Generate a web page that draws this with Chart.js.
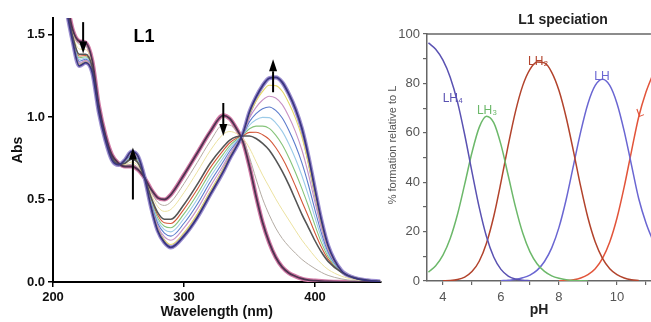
<!DOCTYPE html>
<html><head><meta charset="utf-8">
<script src="https://cdn.jsdelivr.net/npm/chart.js@4.4.1/dist/chart.umd.min.js"></script>
<style>
html,body{margin:0;padding:0;background:#fff;overflow:hidden;width:651px;height:322px;}
#c1{position:absolute;left:0;top:0;}
#c2{position:absolute;left:360px;top:0;}
</style></head><body>
<canvas id="c1" width="390" height="322" style="width:390px;height:322px"></canvas>
<canvas id="c2" width="291" height="322" style="width:291px;height:322px"></canvas>
<script>
// ---------- Left panel: UV-vis titration spectra ----------
const wavelengths = [210,215,220,225,230,235,240,245,250,255,260,265,270,275,280,285,290,300,310,320,330,335,340,345,350,355,360,365,370,375,380,385,390,395,400,405,410,420,430,440,450];
const absStart = [1.72,1.53,1.46,1.45,1.34,1.07,0.89,0.77,0.72,0.70,0.70,0.68,0.63,0.56,0.51,0.50,0.53,0.65,0.78,0.91,1.01,0.99,0.93,0.85,0.70,0.52,0.36,0.24,0.15,0.09,0.055,0.035,0.02,0.012,0.008,0.005,0.003,0.001,0,0,0];
const absStep1 = [1.71,1.52,1.44,1.43,1.33,1.06,0.885,0.765,0.72,0.706,0.714,0.692,0.63,0.545,0.483,0.464,0.485,0.596,0.723,0.853,0.953,0.951,0.915,0.861,0.756,0.625,0.504,0.408,0.327,0.264,0.216,0.175,0.137,0.107,0.081,0.058,0.040,0.019,0.008,0.003,0.001];
const absStep2 = [1.70,1.506,1.412,1.408,1.316,1.058,0.881,0.761,0.717,0.712,0.727,0.704,0.63,0.53,0.456,0.428,0.44,0.542,0.666,0.796,0.896,0.912,0.90,0.871,0.811,0.73,0.648,0.576,0.504,0.438,0.376,0.314,0.254,0.203,0.153,0.110,0.076,0.036,0.015,0.006,0.002];
const absMid = [1.69,1.49,1.38,1.38,1.30,1.05,0.875,0.755,0.715,0.72,0.745,0.72,0.63,0.51,0.42,0.38,0.38,0.47,0.59,0.72,0.82,0.86,0.88,0.885,0.885,0.87,0.84,0.80,0.74,0.67,0.59,0.50,0.41,0.33,0.25,0.18,0.125,0.06,0.025,0.01,0.003];
const absStep3 = [1.69,1.486,1.370,1.373,1.296,1.047,0.873,0.753,0.714,0.723,0.752,0.726,0.63,0.501,0.404,0.359,0.355,0.442,0.56,0.692,0.798,0.844,0.871,0.887,0.907,0.908,0.893,0.865,0.815,0.751,0.673,0.583,0.488,0.395,0.297,0.209,0.139,0.062,0.025,0.01,0.003];
const absStep4 = [1.68,1.481,1.359,1.365,1.291,1.044,0.871,0.751,0.714,0.726,0.759,0.732,0.63,0.492,0.387,0.338,0.329,0.413,0.53,0.663,0.775,0.827,0.862,0.890,0.929,0.945,0.945,0.931,0.89,0.832,0.755,0.665,0.566,0.459,0.343,0.237,0.154,0.063,0.025,0.01,0.003];
const absStep5 = [1.68,1.477,1.349,1.358,1.287,1.041,0.868,0.748,0.713,0.729,0.765,0.738,0.63,0.483,0.371,0.317,0.304,0.385,0.50,0.635,0.753,0.811,0.853,0.892,0.950,0.983,0.998,0.996,0.965,0.913,0.838,0.748,0.644,0.524,0.390,0.266,0.168,0.065,0.025,0.01,0.003];
const absStep6 = [1.67,1.472,1.338,1.35,1.282,1.038,0.866,0.746,0.712,0.732,0.772,0.744,0.63,0.474,0.354,0.296,0.278,0.356,0.47,0.606,0.73,0.794,0.844,0.894,0.972,1.02,1.05,1.061,1.04,0.994,0.92,0.83,0.722,0.588,0.436,0.294,0.182,0.066,0.025,0.01,0.003];
const absStep7 = [1.67,1.468,1.328,1.343,1.278,1.035,0.864,0.744,0.711,0.735,0.779,0.75,0.63,0.465,0.338,0.275,0.253,0.328,0.44,0.578,0.708,0.778,0.835,0.896,0.994,1.058,1.103,1.126,1.115,1.075,1.003,0.913,0.80,0.653,0.483,0.323,0.196,0.068,0.025,0.01,0.003];
const absStep8 = [1.66,1.463,1.317,1.335,1.273,1.032,0.862,0.742,0.711,0.738,0.786,0.756,0.63,0.456,0.321,0.254,0.227,0.299,0.41,0.549,0.685,0.761,0.826,0.899,1.016,1.095,1.155,1.192,1.19,1.156,1.085,0.995,0.878,0.717,0.529,0.351,0.211,0.069,0.025,0.01,0.003];
const absEnd = [1.66,1.46,1.31,1.33,1.27,1.03,0.86,0.74,0.71,0.74,0.79,0.76,0.63,0.45,0.31,0.24,0.21,0.28,0.39,0.53,0.67,0.75,0.82,0.90,1.03,1.12,1.19,1.235,1.24,1.21,1.14,1.05,0.93,0.76,0.56,0.37,0.22,0.07,0.025,0.01,0.003];
const wlTicks = [200, 300, 400];
const absTicks = [0, 0.5, 1.0, 1.5];

// ---------- Right panel: speciation ----------
const pH = [3.5,3.75,4,4.25,4.5,4.75,5,5.25,5.5,5.75,6,6.25,6.5,6.75,7,7.25,7.5,7.75,8,8.25,8.5,8.75,9,9.25,9.5,9.75,10,10.25,10.5,10.75,11,11.25];
const fracLH4 = [96.4,93.8,89.4,82.5,72.5,59.2,44.2,29.8,18.0,9.7,4.7,2.0,0.8,0.3,0.1,null,null,null,null,null,null,null,null,null,null,null,null,null,null,null,null,null];
const fracLH3 = [3.6,6.2,10.5,17.2,26.9,39.2,52.0,62.2,66.7,64.1,55.2,42.7,30.0,19.4,11.8,6.9,3.9,2.1,1.1,0.5,0.2,0.1,0.0,null,null,null,null,null,null,null,null,null];
const fracLH2 = [null,null,0.1,0.2,0.6,1.6,3.8,8.0,15.3,26.1,40.0,55.0,68.6,79.1,85.7,88.7,88.3,84.5,77.1,66.1,52.5,38.2,25.5,15.8,9.2,5.0,2.6,1.2,0.5,0.2,null,null];
const fracLH = [null,null,null,null,null,null,null,null,null,null,0.1,0.3,0.6,1.3,2.4,4.4,7.9,13.4,21.7,33.1,46.8,60.5,71.9,79.2,81.7,79.2,71.9,60.6,46.9,33.3,23.5,16.0];
const fracL = [null,null,null,null,null,null,null,null,null,null,null,null,null,null,null,null,null,null,0.1,0.2,0.5,1.2,2.6,5.0,9.2,15.8,25.5,38.2,52.6,66.5,76.5,84.0];
const speciesNames = ['LH\u2084','LH\u2083','LH\u2082','LH','L'];
const pctTicks = [0,20,40,60,80,100];
const pHTicks = [4,6,8,10];

// ---------- styles (kept separate from data) ----------
Chart.defaults.font.family = '"Liberation Sans", Arial, Helvetica, sans-serif';
const specStyle = [
  {arr: absEnd,   color:'#3a3680', width:1.8, order:0},
  {arr: absStart, color:'#4e3350', width:1.8, order:0},
  {arr: absStep8, color:'#e4d868', width:1.1, order:4},
  {arr: absStep7, color:'#c892c4', width:1.1, order:4},
  {arr: absStep6, color:'#5c7ccc', width:1.1, order:4},
  {arr: absStep5, color:'#9ccbe8', width:1.1, order:4},
  {arr: absStep4, color:'#86c47a', width:1.1, order:4},
  {arr: absStep3, color:'#d4583a', width:1.1, order:4},
  {arr: absMid,   color:'#555555', width:1.6, order:3},
  {arr: absStep2, color:'#ece2a0', width:1.0, order:5},
  {arr: absStep1, color:'#b4aca4', width:1.0, order:5},
  {arr: absEnd,   color:'#9c8ed0', width:4.2, order:8},
  {arr: absStart, color:'#d27aa6', width:4.2, order:8}
];
const arrowSpecs = [
  {x:223, from:1.575, to:1.385},
  {x:261, from:0.50, to:0.815},
  {x:330, from:1.085, to:0.885},
  {x:368, from:1.15, to:1.35}
];
const specColors = ['#5a52b2','#6cb86a','#b2432c','#6a66d2','#e2543a'];
const labelPos = [{x:4.34,y:74},{x:5.52,y:69},{x:7.28,y:88.7},{x:9.48,y:82.6},{x:10.8,y:68}];

const leftDeco = {
  id:'leftDeco',
  afterDatasetsDraw(chart){
    const {ctx, scales:{x,y}} = chart;
    ctx.save();
    ctx.fillStyle = '#000'; ctx.strokeStyle = '#000';
    arrowSpecs.forEach(a=>{
      const px = x.getPixelForValue(a.x);
      const y0 = y.getPixelForValue(a.from), y1 = y.getPixelForValue(a.to);
      const dir = y1 > y0 ? 1 : -1;
      const head = 12, hw = 4;
      ctx.lineWidth = 2;
      ctx.beginPath(); ctx.moveTo(px, y0); ctx.lineTo(px, y1 - dir*head); ctx.stroke();
      ctx.beginPath(); ctx.moveTo(px, y1); ctx.lineTo(px-hw, y1 - dir*head); ctx.lineTo(px+hw, y1 - dir*head); ctx.closePath(); ctx.fill();
    });
    ctx.font = 'bold 18px "Liberation Sans", Arial, sans-serif';
    ctx.textAlign = 'center'; ctx.textBaseline = 'middle';
    ctx.fillText('L1', x.getPixelForValue(269.5), y.getPixelForValue(1.485));
    ctx.restore();
  }
};

new Chart(document.getElementById('c1'), {
  type:'line',
  data:{ datasets: specStyle.map(s=>({
    data: wavelengths.map((w,i)=>({x:w, y:s.arr[i]})),
    borderColor:s.color, borderWidth:s.width, order:s.order,
    pointRadius:0, fill:false, cubicInterpolationMode:'monotone'
  }))},
  options:{
    responsive:false, animation:false, devicePixelRatio:1,
    layout:{padding:{top:18, right:9.5, left:0, bottom:0}},
    plugins:{legend:{display:false}, tooltip:{enabled:false}},
    scales:{
      x:{type:'linear', min:200, max:450,
        afterFit(s){ s.height = 40; },
        afterBuildTicks(s){ s.ticks = wlTicks.map(v=>({value:v})); },
        ticks:{font:{size:13, weight:'bold'}, color:'#111', padding:3, maxRotation:0},
        grid:{drawOnChartArea:false, tickLength:5, color:'#000', lineWidth:1.5},
        border:{color:'#000', width:2},
        title:{display:true, text:'Wavelength (nm)', color:'#111', font:{size:14, weight:'bold'}, padding:{top:0, bottom:1}}
      },
      y:{type:'linear', min:0, max:1.6,
        afterFit(s){ s.width = 53; },
        afterBuildTicks(s){ s.ticks = absTicks.map(v=>({value:v})); },
        ticks:{font:{size:13, weight:'bold'}, color:'#111', padding:3, callback:v=>Number(v).toFixed(1)},
        grid:{drawOnChartArea:false, tickLength:5, color:'#000', lineWidth:1.5},
        border:{color:'#000', width:2},
        title:{display:true, text:'Abs', color:'#111', font:{size:14, weight:'bold'}, padding:{top:10, bottom:0}}
      }
    }
  },
  plugins:[leftDeco]
});

const rightDeco = {
  id:'rightDeco',
  afterDatasetsDraw(chart){
    const {ctx, chartArea:a, scales:{x,y}} = chart;
    ctx.save();
    ctx.strokeStyle = '#666'; ctx.lineWidth = 1.5;
    ctx.beginPath(); ctx.moveTo(a.left, a.top); ctx.lineTo(a.right, a.top); ctx.stroke();
    ctx.font = '12px "Liberation Sans", Arial, sans-serif';
    ctx.textAlign = 'center'; ctx.textBaseline = 'middle';
    speciesNames.forEach((t,i)=>{
      ctx.fillStyle = specColors[i];
      const px = x.getPixelForValue(labelPos[i].x), py = y.getPixelForValue(labelPos[i].y);
      if (i === 4) {
        ctx.save(); ctx.translate(px, py); ctx.rotate(-0.35); ctx.fillText(t, 0, 0); ctx.restore();
      } else ctx.fillText(t, px, py);
    });
    ctx.fillStyle = '#222';
    ctx.font = 'bold 14px "Liberation Sans", Arial, sans-serif';
    ctx.fillText('L1 speciation', a.left + 136, 20);
    ctx.fillStyle = '#555';
    ctx.font = '11px "Liberation Sans", Arial, sans-serif';
    ctx.save(); ctx.translate(33, 145); ctx.rotate(-Math.PI/2);
    ctx.fillText('% formation relative to L', 0, 0); ctx.restore();
    ctx.restore();
  }
};

const fracs = [fracLH4, fracLH3, fracLH2, fracLH, fracL];
new Chart(document.getElementById('c2'), {
  type:'line',
  data:{ datasets: fracs.map((f,i)=>({
    data: pH.map((p,j)=>({x:p, y:f[j]})),
    borderColor:specColors[i], borderWidth:1.5, pointRadius:0, fill:false,
    cubicInterpolationMode:'monotone', spanGaps:false
  }))},
  options:{
    responsive:false, animation:false, devicePixelRatio:1,
    layout:{padding:{top:34, right:0, left:0, bottom:0}},
    plugins:{legend:{display:false}, tooltip:{enabled:false}},
    scales:{
      x:{type:'linear', min:3.45, max:11.17,
        afterFit(s){ s.height = 41; },
        afterBuildTicks(s){ const t=[]; for(let v=4; v<=11; v++) t.push({value:v}); s.ticks = t; },
        ticks:{font:{size:13}, color:'#555', padding:5, maxRotation:0, autoSkip:false,
          callback:v=> pHTicks.includes(v) ? String(v) : ''},
        grid:{drawOnChartArea:false, tickLength:4, color:'#666', lineWidth:1.2},
        border:{color:'#666', width:1.5},
        title:{display:true, text:'pH', color:'#222', font:{size:14, weight:'bold'}, padding:{top:0, bottom:3}}
      },
      y:{type:'linear', min:0, max:100,
        afterFit(s){ s.width = 67; },
        afterBuildTicks(s){ const t=[]; for(let v=0; v<=100; v+=10) t.push({value:v}); s.ticks = t; },
        ticks:{font:{size:13}, color:'#555', padding:3, autoSkip:false,
          callback:v=> pctTicks.includes(v) ? String(v) : ''},
        grid:{drawOnChartArea:false, tickLength:4, color:'#666', lineWidth:1.2},
        border:{color:'#666', width:1.5}
      }
    }
  },
  plugins:[rightDeco]
});
</script></body></html>
